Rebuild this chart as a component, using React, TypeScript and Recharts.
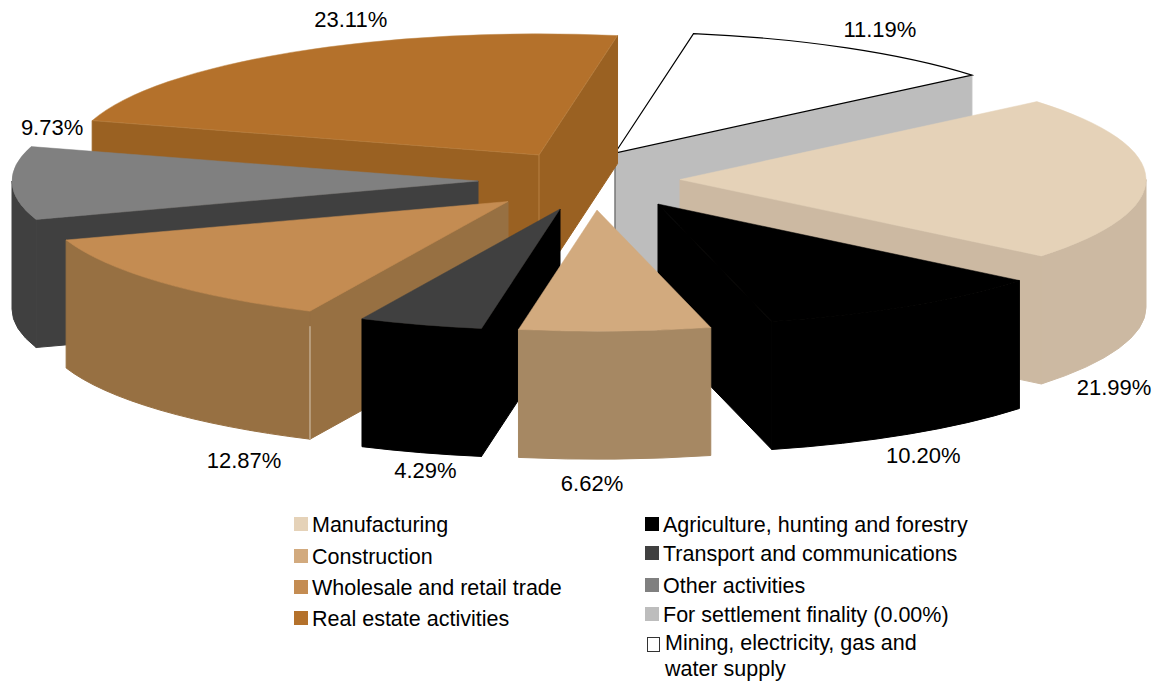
import React from "react";
import { PieChart, Pie, Legend } from "recharts";

// ---- data ----
const sliceNames = [
  "Mining, electricity, gas and water supply",
  "Manufacturing",
  "Agriculture, hunting and forestry",
  "Construction",
  "Transport and communications",
  "Wholesale and retail trade",
  "Other activities",
  "Real estate activities",
  "For settlement finality",
];
const sliceValues = [11.19, 21.99, 10.2, 6.62, 4.29, 12.87, 9.73, 23.11, 0];

const topColors = ["#ffffff", "#e5d2b8", "#000000", "#d2aa7e", "#404040", "#c48c52", "#808080", "#b4712b", "#bdbdbd"];
const wallColors = ["#bdbdbd", "#ccb9a2", "#000000", "#a68863", "#000000", "#977042", "#404040", "#9a6122", "#bdbdbd"];

const legendLeft = ["Manufacturing", "Construction", "Wholesale and retail trade", "Real estate activities"];
const legendLeftColors = ["#e5d2b8", "#d2aa7e", "#c48c52", "#b4712b"];
const legendRight = ["Agriculture, hunting and forestry", "Transport and communications", "Other activities", "For settlement finality (0.00%)"];
const legendRightColors = ["#000000", "#404040", "#808080", "#bdbdbd"];
const legendLast = ["Mining, electricity, gas and", "water supply"];

// ---- layout / style ----
const W = 1154;
const H = 682;
const CX = 595;
const CY = 181;
const R = 466;
const SQUASH = 0.26;
const DEPTH = 128;
const START = 80.3;
const explodeDx = [20, 85, 63, 2, -35, -87, -117, -56, 0];
const explodeDy = [-28, -1.5, 23, 29, 28, 20.5, 0, -26, 0];
const labelDx = [33, -32, 15, -23, 5, 84, 40, 58, 0];
const labelDy = [-18, 209, 149, 152, 146, 178, -56, -33, 0];
const paintOrder = [0, 1, 7, 6, 5, 4, 2, 3];
const FONT = "'Liberation Sans', Arial, sans-serif";

const tableData = sliceNames.map((name, i) => ({ name, value: sliceValues[i], idx: i }));

function Slice(props: any) {
  const { cx, cy, outerRadius, startAngle, endAngle, payload } = props;
  const i = payload.idx ?? props.idx;
  const ax = cx + explodeDx[i];
  const ay = cy + explodeDy[i];
  const ry = outerRadius * SQUASH;
  const px = (deg: number) => ax + outerRadius * Math.cos((deg * Math.PI) / 180);
  const py = (deg: number) => ay - ry * Math.sin((deg * Math.PI) / 180);
  const arc = (to: number, sweep: number) =>
    `A ${outerRadius} ${ry} 0 0 ${sweep} ${px(to)} ${py(to)}`;

  const walls: React.ReactNode[] = [];
  const radial = (deg: number, key: string) => (
    <path
      key={key}
      d={`M ${ax} ${ay} L ${px(deg)} ${py(deg)} L ${px(deg)} ${py(deg) + DEPTH} L ${ax} ${ay + DEPTH} Z`}
      fill={wallColors[i]}
      stroke={wallColors[i]}
      strokeWidth={1}
    />
  );
  if (Math.cos((startAngle * Math.PI) / 180) < 0) walls.push(radial(startAngle, "s"));
  if (Math.cos((endAngle * Math.PI) / 180) > 0) walls.push(radial(endAngle, "e"));

  // front-facing part of the rim: the angles whose sine is negative
  const ranges: [number, number][] = [];
  for (const [lo, hi] of [[-180, 0], [-540, -360]]) {
    const a = Math.min(startAngle, hi);
    const b = Math.max(endAngle, lo);
    if (a > b) ranges.push([a, b]);
  }
  ranges.forEach(([a, b], n) => {
    walls.push(
      <path
        key={`o${n}`}
        d={`M ${px(a)} ${py(a)} ${arc(b, 1)} L ${px(b)} ${py(b) + DEPTH} A ${outerRadius} ${ry} 0 0 0 ${px(a)} ${py(a) + DEPTH} Z`}
        fill={wallColors[i]}
        stroke={wallColors[i]}
        strokeWidth={1}
      />
    );
  });

  const mid = (startAngle + endAngle) / 2;
  const isMining = i === 0;
  return (
    <g>
      {walls}
      {i === 5 && (
        <line x1={px(startAngle)} y1={py(startAngle) + 15} x2={px(startAngle)} y2={py(startAngle) + DEPTH} stroke="#d9c9b4" strokeWidth={1} />
      )}
      {i === 7 && (
        <line x1={ax} y1={ay} x2={ax} y2={ay + DEPTH} stroke="#c08a4c" strokeWidth={0.8} />
      )}
      <path
        d={`M ${ax} ${ay} L ${px(startAngle)} ${py(startAngle)} ${arc(endAngle, 1)} Z`}
        fill={topColors[i]}
        stroke={isMining ? "#000000" : i === 7 ? "#c08a4c" : topColors[i]}
        strokeWidth={isMining ? 1.2 : 0.5}
      />
      {isMining && <line x1={ax} y1={ay} x2={ax} y2={ay + 78} stroke="#555555" strokeWidth={1} />}
      <text
        x={px(mid) + labelDx[i]}
        y={py(mid) + labelDy[i]}
        textAnchor="middle"
        dominantBaseline="central"
        fontFamily={FONT}
        fontSize={22}
        fill="#000000"
      >
        {`${sliceValues[i].toFixed(2)}%`}
      </text>
    </g>
  );
}

const textStyle: React.CSSProperties = {
  position: "absolute",
  fontFamily: FONT,
  fontSize: 21.5,
  lineHeight: "24px",
  color: "#000",
  whiteSpace: "nowrap",
};
const leftRows = [524, 556, 587, 618];
const rightRows = [524, 553, 585, 614];
const Swatch = ({ x, y, c }: { x: number; y: number; c: string }) => (
  <div style={{ position: "absolute", left: x, top: y - 7, width: 14, height: 14, background: c }} />
);

function LegendBlock() {
  return (
    <div style={{ position: "absolute", left: 0, top: 0, width: W, height: H }}>
      {legendLeft.map((t, n) => (
        <React.Fragment key={t}>
          <Swatch x={294} y={leftRows[n]} c={legendLeftColors[n]} />
          <div style={{ ...textStyle, left: 312, top: leftRows[n] - 11 }}>{t}</div>
        </React.Fragment>
      ))}
      {legendRight.map((t, n) => (
        <React.Fragment key={t}>
          <Swatch x={645} y={rightRows[n]} c={legendRightColors[n]} />
          <div style={{ ...textStyle, left: 663, top: rightRows[n] - 11 }}>{t}</div>
        </React.Fragment>
      ))}
      <div style={{ position: "absolute", left: 647, top: 637, width: 11, height: 13, border: "1px solid #333", background: "#fff" }} />
      <div style={{ ...textStyle, left: 665, top: 631 }}>{legendLast[0]}</div>
      <div style={{ ...textStyle, left: 665, top: 657 }}>{legendLast[1]}</div>
    </div>
  );
}

export default function App() {
  return (
    <div style={{ position: "absolute", left: 0, top: 0, width: W, height: H, overflow: "hidden", background: "#fff" }}>
      <PieChart width={W} height={H} margin={{ top: 0, right: 0, bottom: 0, left: 0 }}>
        {paintOrder.map((layer) => (
          <Pie
            key={layer}
            data={tableData}
            dataKey="value"
            nameKey="name"
            cx={CX}
            cy={CY}
            innerRadius={0}
            outerRadius={R}
            startAngle={START}
            endAngle={START - 360}
            stroke="none"
            isAnimationActive={false}
            shape={(p: any) => (p.payload.idx === layer ? <Slice {...p} /> : <g />)}
          />
        ))}
        <Legend
          content={() => <LegendBlock />}
          wrapperStyle={{ position: "absolute", left: 0, top: 0, width: W, height: H }}
        />
      </PieChart>
    </div>
  );
}
